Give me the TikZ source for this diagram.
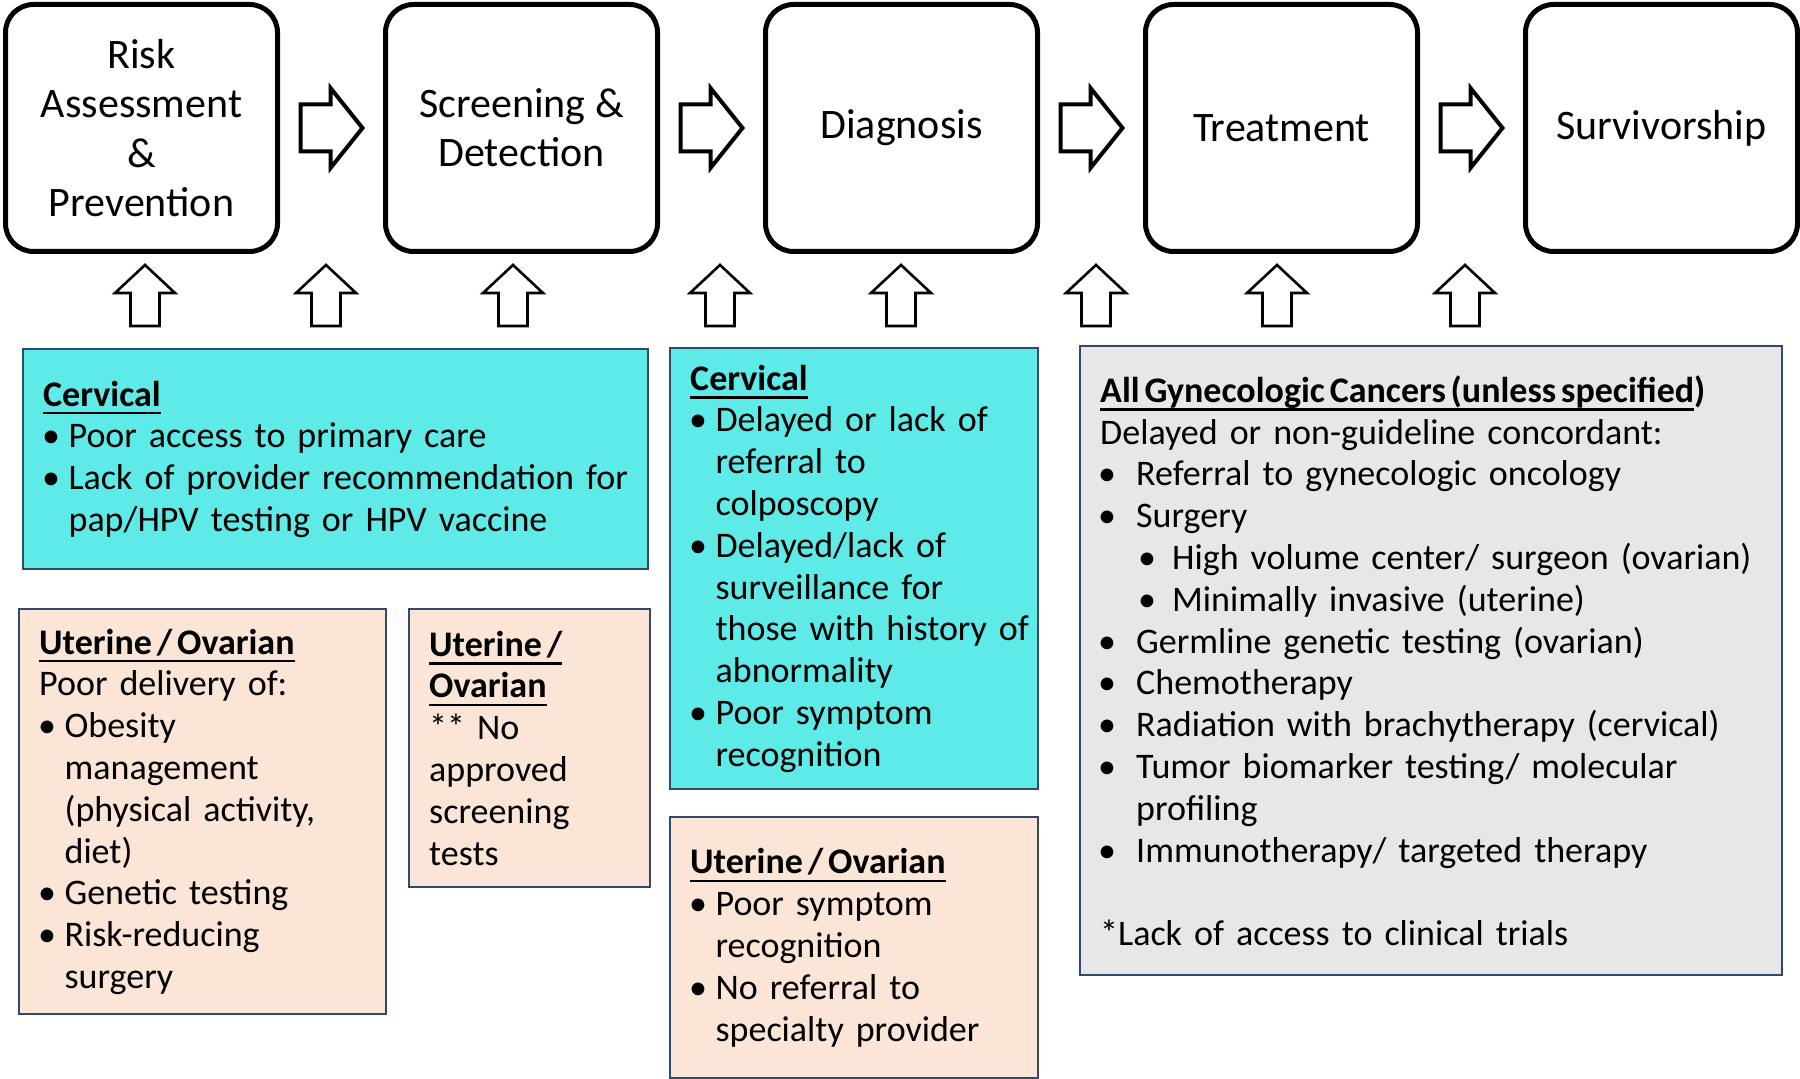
\documentclass[tikz,border=0pt]{standalone}
\usepackage{fontspec}
\setmainfont{Carlito}
\usetikzlibrary{positioning,calc}

\definecolor{boxline}{HTML}{2F4A6E}
\definecolor{cyanfill}{HTML}{5EEAE7}
\definecolor{peachfill}{HTML}{FBE5D6}
\definecolor{grayfill}{HTML}{E7E7E7}

\newsavebox{\hdbox}
\newcommand{\hd}[1]{\sbox{\hdbox}{\bfseries\spaceskip=0.6\fontdimen2\font #1}\rlap{\rule[-4.2pt]{\wd\hdbox}{1.2pt}}\usebox{\hdbox}}
\newcommand{\nl}{\hfil\break}
\newcommand{\lst}{\parindent=0pt\parskip=0pt\rightskip=-15pt plus 1fil\relax}
\newcommand{\bul}[1]{\par\noindent\hangindent=12.7pt\hangafter=1\makebox[12.7pt][l]{\hspace{-0.5pt}\textbullet}#1}
\newcommand{\wbul}[1]{\par\noindent\hangindent=18pt\hangafter=1\makebox[18pt][l]{\hspace{-1pt}\textbullet}#1}
\newcommand{\sbul}[1]{\par\noindent\hangindent=36pt\hangafter=1\makebox[36pt][l]{\hspace{19pt}\textbullet}#1}

\begin{document}
\begin{tikzpicture}[x=0.5pt, y=-0.5pt,
    stage/.style={rectangle, draw, line width=2.5pt, rounded corners=14pt, minimum width=136pt, minimum height=123.5pt, align=center, font=\fontsize{21}{24.7}\selectfont},
    infobox/.style={rectangle, draw=boxline, line width=1.2pt, anchor=north west, inner xsep=10pt, inner ysep=0pt, font=\fontsize{18}{20.9}\selectfont},
    rarrow/.pic={\draw[line width=2pt, fill=white] (-31,-23.5) -- (-1,-23.5) -- (-1,-40) -- (31,0) -- (-1,40) -- (-1,23.5) -- (-31,23.5) -- cycle;},
    uarrow/.pic={\draw[line width=1.3pt, fill=white] (-14.5,30) -- (-14.5,-3) -- (-30,-3) -- (0,-31) -- (30,-3) -- (14.5,-3) -- (14.5,30) -- cycle;}]
    \useasboundingbox (0,0) rectangle (1800,1079);

    % stages of care
    \node[stage] (risk) at (141.5,128) {Risk\\Assessment\\\&\\Prevention};
    \node[stage, right=51.5pt of risk] (screen) {Screening \&\\Detection};
    \node[stage, right=51.5pt of screen] (diag) {Diagnosis};
    \node[stage, right=51.5pt of diag] (treat) {Treatment};
    \node[stage, right=51.5pt of treat] (surv) {Survivorship};

    \pic at ($(risk.east)!0.5!(screen.west)$) {rarrow};
    \pic at ($(screen.east)!0.5!(diag.west)$) {rarrow};
    \pic at ($(diag.east)!0.5!(treat.west)$) {rarrow};
    \pic at ($(treat.east)!0.5!(surv.west)$) {rarrow};

    \foreach \ux in {145,326,513,720,901,1096,1277,1465}
        \pic at (\ux,296) {uarrow};

    % barriers
    \node[infobox, fill=cyanfill, text width=292.5pt, minimum height=110pt] (cervone) at (22,348) {\lst\hd{Cervical}\bul{Poor access to primary care}\bul{Lack of provider recommendation for\nl pap/HPV testing or HPV vaccine}\par};
    \node[infobox, fill=peachfill, text width=163.5pt, minimum height=202.5pt] (uteone) at (18,608) {\lst\hd{Uterine / Ovarian}\par\noindent Poor delivery of:\bul{Obesity\nl management\nl (physical activity,\nl diet)}\bul{Genetic testing}\bul{Risk-reducing\nl surgery}\par};
    \node[infobox, fill=peachfill, text width=100.5pt, minimum height=139pt] (utetwo) at (408,608) {\lst\hd{Uterine /}\par\noindent\hd{Ovarian}\par\noindent ** No\nl approved\nl screening\nl tests\par};
    \node[infobox, fill=cyanfill, text width=164pt, minimum height=220.5pt] (cervtwo) at (669,347) {\lst\hd{Cervical}\bul{Delayed or lack of\nl referral to\nl colposcopy}\bul{Delayed/lack of\nl surveillance for\nl those with history of\nl abnormality}\bul{Poor symptom\nl recognition}\par};
    \node[infobox, fill=peachfill, text width=164pt, minimum height=130.5pt] (utethree) at (669,816) {\lst\hd{Uterine / Ovarian}\bul{Poor symptom\nl recognition}\bul{No referral to\nl specialty provider}\par};
    \node[infobox, fill=grayfill, text width=331pt, minimum height=314.5pt] (allgyn) at (1079,345) {\lst\hd{All Gynecologic Cancers (unless specified}\textbf{)}\par\noindent Delayed or non-guideline concordant:\wbul{Referral to gynecologic oncology}\wbul{Surgery}\sbul{High volume center/ surgeon (ovarian)}\sbul{Minimally invasive (uterine)}\wbul{Germline genetic testing (ovarian)}\wbul{Chemotherapy}\wbul{Radiation with brachytherapy (cervical)}\wbul{Tumor biomarker testing/ molecular\nl profiling}\wbul{Immunotherapy/ targeted therapy}\par\mbox{}\par\noindent *Lack of access to clinical trials\par};
\end{tikzpicture}
\end{document}
